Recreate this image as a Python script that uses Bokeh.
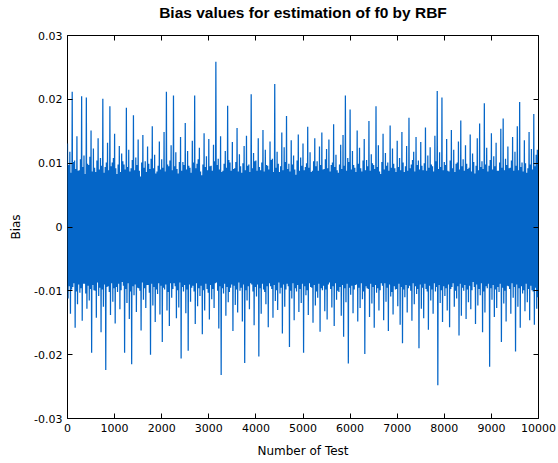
from bokeh.plotting import figure
from bokeh.models import LinearAxis, FixedTicker, Range1d, ColumnDataSource
from bokeh.embed import file_html
from bokeh.resources import INLINE

# Local upper extremes (one per 25 tests) and lower extremes (offset by half a step)
bias_hi = [
    0.0131, 0.0097, 0.0118, 0.0085, 0.0212, 0.0102, 0.0104, 0.0091, 0.0142, 0.0088,
    0.0089, 0.0106, 0.0205, 0.0094, 0.0112, 0.0083, 0.0203, 0.0099, 0.0097, 0.0110,
    0.0151, 0.0087, 0.0123, 0.0093, 0.0086, 0.0104, 0.0139, 0.0090, 0.0108, 0.0096,
    0.0201, 0.0085, 0.0094, 0.0101, 0.0132, 0.0089, 0.0189, 0.0095, 0.0101, 0.0108,
    0.0146, 0.0092, 0.0083, 0.0098, 0.0127, 0.0086, 0.0115, 0.0103, 0.0098, 0.0090,
    0.0187, 0.0094, 0.0121, 0.0087, 0.0092, 0.0105, 0.0175, 0.0089, 0.0109, 0.0097,
    0.0137, 0.0088, 0.0079, 0.0101, 0.0144, 0.0093, 0.0103, 0.0086, 0.0126, 0.0099,
    0.0091, 0.0107, 0.0158, 0.0092, 0.0113, 0.0084, 0.0087, 0.0096, 0.0134, 0.0090,
    0.0106, 0.0093, 0.0149, 0.0087, 0.0212, 0.0098, 0.0095, 0.0104, 0.0128, 0.0089,
    0.0206, 0.0095, 0.0117, 0.0091, 0.0084, 0.0102, 0.0141, 0.0088, 0.0102, 0.0097,
    0.0163, 0.0090, 0.0119, 0.0096, 0.0093, 0.0085, 0.0135, 0.0101, 0.0206, 0.0092,
    0.0099, 0.0106, 0.0124, 0.0087, 0.0081, 0.0098, 0.0147, 0.0094, 0.0111, 0.0089,
    0.0138, 0.0095, 0.0096, 0.0088, 0.0129, 0.0103, 0.0259, 0.0097, 0.0107, 0.0090,
    0.0142, 0.0086, 0.0088, 0.0099, 0.0119, 0.0093, 0.0190, 0.0105, 0.0101, 0.0088,
    0.0133, 0.0091, 0.0092, 0.0102, 0.0155, 0.0087, 0.0114, 0.0095, 0.0085, 0.0100,
    0.0127, 0.0089, 0.0143, 0.0096, 0.0098, 0.0086, 0.0208, 0.0092, 0.0116, 0.0103,
    0.0104, 0.0088, 0.0139, 0.0094, 0.0089, 0.0101, 0.0152, 0.0087, 0.0121, 0.0097,
    0.0096, 0.0090, 0.0134, 0.0105, 0.0107, 0.0086, 0.0224, 0.0093, 0.0118, 0.0099,
    0.0086, 0.0095, 0.0148, 0.0089, 0.0125, 0.0102, 0.0174, 0.0091, 0.0099, 0.0087,
    0.0136, 0.0098, 0.0112, 0.0090, 0.0082, 0.0104, 0.0145, 0.0088, 0.0109, 0.0096,
    0.0131, 0.0089, 0.0094, 0.0100, 0.0157, 0.0093, 0.0117, 0.0086, 0.0088, 0.0103,
    0.0139, 0.0095, 0.0103, 0.0088, 0.0126, 0.0097, 0.0148, 0.0090, 0.0091, 0.0106,
    0.0122, 0.0092, 0.0137, 0.0087, 0.0097, 0.0101, 0.0161, 0.0094, 0.0113, 0.0089,
    0.0085, 0.0098, 0.0129, 0.0091, 0.0144, 0.0096, 0.0206, 0.0088, 0.0108, 0.0102,
    0.0184, 0.0090, 0.0119, 0.0097, 0.0093, 0.0086, 0.0151, 0.0099, 0.0124, 0.0092,
    0.0087, 0.0104, 0.0138, 0.0089, 0.0105, 0.0095, 0.0166, 0.0088, 0.0114, 0.0100,
    0.0097, 0.0091, 0.0189, 0.0094, 0.0128, 0.0087, 0.0083, 0.0102, 0.0146, 0.0090,
    0.0116, 0.0096, 0.0101, 0.0088, 0.0159, 0.0093, 0.0123, 0.0099, 0.0092, 0.0086,
    0.0135, 0.0094, 0.0108, 0.0089, 0.0149, 0.0101, 0.0086, 0.0095, 0.0127, 0.0088,
    0.0171, 0.0092, 0.0098, 0.0105, 0.0118, 0.0087, 0.0141, 0.0097, 0.0104, 0.0090,
    0.0133, 0.0096, 0.0089, 0.0100, 0.0156, 0.0088, 0.0112, 0.0093, 0.0125, 0.0098,
    0.0095, 0.0087, 0.0143, 0.0103, 0.0213, 0.0091, 0.0117, 0.0094, 0.0203, 0.0089,
    0.0102, 0.0097, 0.0138, 0.0088, 0.0087, 0.0104, 0.0152, 0.0092, 0.0121, 0.0086,
    0.0099, 0.0101, 0.0134, 0.0090, 0.0167, 0.0095, 0.0106, 0.0088, 0.0128, 0.0099,
    0.0091, 0.0093, 0.0145, 0.0087, 0.0115, 0.0102, 0.0084, 0.0096, 0.0139, 0.0089,
    0.0162, 0.0094, 0.0103, 0.0091, 0.0194, 0.0098, 0.0124, 0.0087, 0.0096, 0.0105,
    0.0147, 0.0090, 0.0111, 0.0095, 0.0132, 0.0088, 0.0088, 0.0101, 0.0154, 0.0093,
    0.0170, 0.0089, 0.0107, 0.0097, 0.0126, 0.0092, 0.0093, 0.0104, 0.0141, 0.0088,
    0.0118, 0.0096, 0.0158, 0.0089, 0.0196, 0.0094, 0.0101, 0.0087, 0.0136, 0.0100,
    0.0085, 0.0092, 0.0149, 0.0098, 0.0122, 0.0090, 0.0177, 0.0095, 0.0113, 0.0121,
]
bias_lo = [
    -0.0112, -0.0093, -0.0136, -0.0098, -0.0094, -0.0088, -0.0158, -0.0101, -0.0121, -0.0090,
    -0.0103, -0.0096, -0.0147, -0.0089, -0.0089, -0.0104, -0.0128, -0.0092, -0.0115, -0.0097,
    -0.0197, -0.0091, -0.0099, -0.0100, -0.0142, -0.0087, -0.0108, -0.0095, -0.0165, -0.0098,
    -0.0125, -0.0090, -0.0224, -0.0094, -0.0093, -0.0102, -0.0138, -0.0088, -0.0117, -0.0096,
    -0.0151, -0.0094, -0.0102, -0.0089, -0.0129, -0.0099, -0.0086, -0.0092, -0.0197, -0.0097,
    -0.0119, -0.0088, -0.0144, -0.0101, -0.0215, -0.0093, -0.0107, -0.0090, -0.0133, -0.0095,
    -0.0096, -0.0100, -0.0162, -0.0087, -0.0114, -0.0096, -0.0127, -0.0091, -0.0091, -0.0103,
    -0.0200, -0.0089, -0.0123, -0.0094, -0.0149, -0.0098, -0.0105, -0.0088, -0.0137, -0.0092,
    -0.0180, -0.0095, -0.0098, -0.0090, -0.0131, -0.0102, -0.0155, -0.0088, -0.0111, -0.0097,
    -0.0088, -0.0093, -0.0143, -0.0099, -0.0126, -0.0087, -0.0206, -0.0094, -0.0101, -0.0091,
    -0.0135, -0.0098, -0.0194, -0.0090, -0.0117, -0.0095, -0.0092, -0.0101, -0.0152, -0.0088,
    -0.0124, -0.0096, -0.0108, -0.0092, -0.0168, -0.0099, -0.0131, -0.0089, -0.0097, -0.0103,
    -0.0145, -0.0091, -0.0113, -0.0097, -0.0127, -0.0088, -0.0087, -0.0100, -0.0159, -0.0093,
    -0.0232, -0.0096, -0.0104, -0.0089, -0.0139, -0.0094, -0.0118, -0.0102, -0.0095, -0.0090,
    -0.0163, -0.0092, -0.0122, -0.0098, -0.0134, -0.0087, -0.0100, -0.0095, -0.0148, -0.0090,
    -0.0213, -0.0099, -0.0115, -0.0093, -0.0129, -0.0088, -0.0090, -0.0101, -0.0154, -0.0094,
    -0.0109, -0.0090, -0.0203, -0.0096, -0.0136, -0.0089, -0.0098, -0.0102, -0.0121, -0.0093,
    -0.0157, -0.0088, -0.0093, -0.0097, -0.0142, -0.0091, -0.0116, -0.0099, -0.0130, -0.0087,
    -0.0104, -0.0095, -0.0167, -0.0090, -0.0125, -0.0098, -0.0089, -0.0093, -0.0188, -0.0100,
    -0.0112, -0.0088, -0.0146, -0.0096, -0.0101, -0.0091, -0.0133, -0.0097, -0.0119, -0.0089,
    -0.0197, -0.0093, -0.0107, -0.0099, -0.0138, -0.0088, -0.0094, -0.0095, -0.0150, -0.0091,
    -0.0123, -0.0101, -0.0111, -0.0089, -0.0164, -0.0096, -0.0099, -0.0092, -0.0132, -0.0098,
    -0.0145, -0.0090, -0.0087, -0.0097, -0.0126, -0.0093, -0.0155, -0.0088, -0.0114, -0.0100,
    -0.0102, -0.0094, -0.0139, -0.0091, -0.0172, -0.0096, -0.0118, -0.0089, -0.0214, -0.0095,
    -0.0106, -0.0092, -0.0135, -0.0098, -0.0091, -0.0090, -0.0148, -0.0095, -0.0127, -0.0088,
    -0.0113, -0.0101, -0.0199, -0.0093, -0.0096, -0.0097, -0.0141, -0.0089, -0.0120, -0.0094,
    -0.0158, -0.0091, -0.0103, -0.0096, -0.0131, -0.0099, -0.0088, -0.0092, -0.0146, -0.0088,
    -0.0117, -0.0095, -0.0163, -0.0090, -0.0109, -0.0102, -0.0137, -0.0093, -0.0098, -0.0097,
    -0.0124, -0.0089, -0.0153, -0.0094, -0.0182, -0.0098, -0.0110, -0.0091, -0.0134, -0.0096,
    -0.0092, -0.0100, -0.0147, -0.0088, -0.0121, -0.0093, -0.0105, -0.0097, -0.0190, -0.0090,
    -0.0128, -0.0095, -0.0143, -0.0089, -0.0097, -0.0101, -0.0161, -0.0092, -0.0115, -0.0098,
    -0.0136, -0.0088, -0.0101, -0.0094, -0.0248, -0.0091, -0.0119, -0.0099, -0.0149, -0.0093,
    -0.0108, -0.0096, -0.0131, -0.0090, -0.0157, -0.0097, -0.0094, -0.0088, -0.0125, -0.0100,
    -0.0112, -0.0093, -0.0170, -0.0089, -0.0139, -0.0095, -0.0100, -0.0091, -0.0144, -0.0098,
    -0.0118, -0.0092, -0.0129, -0.0099, -0.0086, -0.0094, -0.0152, -0.0090, -0.0123, -0.0097,
    -0.0107, -0.0088, -0.0165, -0.0101, -0.0134, -0.0093, -0.0096, -0.0089, -0.0219, -0.0096,
    -0.0114, -0.0091, -0.0141, -0.0098, -0.0127, -0.0094, -0.0102, -0.0089, -0.0180, -0.0095,
    -0.0120, -0.0100, -0.0148, -0.0092, -0.0093, -0.0097, -0.0136, -0.0088, -0.0111, -0.0094,
    -0.0195, -0.0090, -0.0125, -0.0096, -0.0158, -0.0093, -0.0104, -0.0099, -0.0132, -0.0089,
    -0.0118, -0.0097, -0.0146, -0.0092, -0.0099, -0.0101, -0.0153, -0.0095, -0.0128, -0.0110,
]
x_ticks = [0, 1000, 2000, 3000, 4000, 5000, 6000, 7000, 8000, 9000, 10000]
x_tick_labels = ["0", "1000", "2000", "3000", "4000", "5000", "6000", "7000", "8000", "9000", "10000"]
y_ticks = [-0.03, -0.02, -0.01, 0.0, 0.01, 0.02, 0.03]
y_tick_labels = ["-0.03", "-0.02", "-0.01", "0", "0.01", "0.02", "0.03"]
title_text = "Bias values for estimation of f0 by RBF"

step = 25.0
tests, bias = [], []
for i, (h, l) in enumerate(zip(bias_hi, bias_lo)):
    tests += [i * step, i * step + step / 2]
    bias += [h, l]
src = ColumnDataSource(dict(test=tests, bias=bias))

FONT = "DejaVu Sans"
p = figure(width=558, height=463, output_backend="svg", toolbar_location=None, title=None,
           x_range=Range1d(0, 10000), y_range=Range1d(-0.03, 0.03),
           min_border_left=67, min_border_right=20, min_border_top=35, min_border_bottom=45)
p.background_fill_color = "white"
p.border_fill_color = "white"
p.grid.visible = False
p.outline_line_color = "black"
p.outline_line_width = 1
p.outline_line_alpha = 1

p.line("test", "bias", source=src, line_color="#0566c8", line_width=1.25)

xt = FixedTicker(ticks=x_ticks, minor_ticks=[])
yt = FixedTicker(ticks=y_ticks, minor_ticks=[])

for ax in (p.xaxis[0], p.yaxis[0]):
    ax.axis_line_color = None
    ax.major_tick_in = 5
    ax.major_tick_out = 0
    ax.major_tick_line_color = "black"
    ax.minor_tick_line_color = None
    ax.major_label_text_font = FONT
    ax.major_label_text_font_size = "11px"
    ax.major_label_text_color = "black"
    ax.axis_label_text_font = FONT
    ax.axis_label_text_font_size = "12px"
    ax.axis_label_text_font_style = "normal"
    ax.axis_label_text_color = "black"

p.xaxis[0].ticker = xt
p.yaxis[0].ticker = yt
p.xaxis[0].major_label_overrides = dict(zip(x_ticks, x_tick_labels))
p.yaxis[0].major_label_overrides = dict(zip(y_ticks, y_tick_labels))
p.xaxis[0].axis_label = "Number of Test"
p.yaxis[0].axis_label = "Bias"
p.xaxis[0].major_label_standoff = 5
p.xaxis[0].axis_label_standoff = 9
p.yaxis[0].major_label_standoff = 5
p.yaxis[0].axis_label_standoff = 8

# top axis: inward ticks only, and it carries the chart title as its label
top = LinearAxis(ticker=xt, axis_line_color=None, major_tick_in=5, major_tick_out=0,
                 major_tick_line_color="black", minor_tick_line_color=None,
                 major_label_text_font_size="1px", major_label_text_color=None,
                 major_label_standoff=0,
                 axis_label=title_text, axis_label_standoff=15,
                 axis_label_text_font="Liberation Sans", axis_label_text_font_style="bold",
                 axis_label_text_font_size="15.5px", axis_label_text_color="black")
right = LinearAxis(ticker=yt, axis_line_color=None, major_tick_in=5, major_tick_out=0,
                   major_tick_line_color="black", minor_tick_line_color=None,
                   major_label_text_font_size="1px", major_label_text_color=None,
                   major_label_standoff=0)
p.add_layout(top, "above")
p.add_layout(right, "right")

open("out.html", "w").write(file_html(p, INLINE))
